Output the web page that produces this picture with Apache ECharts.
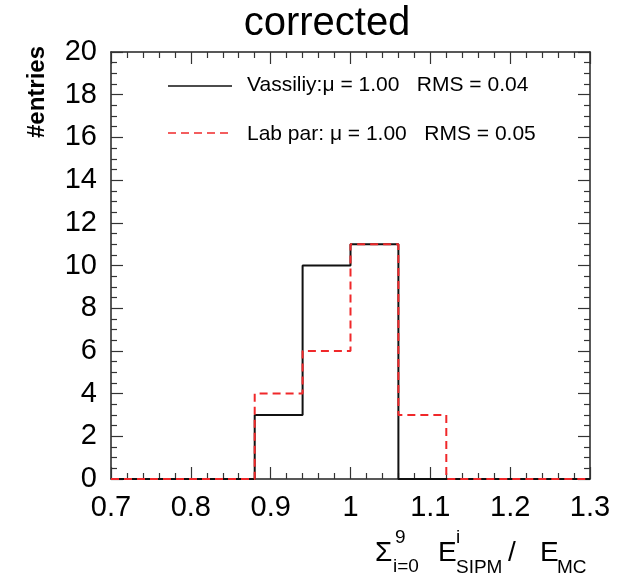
<!DOCTYPE html>
<html><head><meta charset="utf-8">
<script src="https://cdn.jsdelivr.net/npm/echarts@6/dist/echarts.min.js"></script>
<style>html,body{margin:0;padding:0;background:#fff}#c{width:628px;height:576px}</style>
</head><body><div id="c"></div>
<script>
const binEdges = [0.70, 0.76, 0.82, 0.88, 0.94, 1.00, 1.06, 1.12, 1.18, 1.24, 1.30];
const vassiliy = [0, 0, 0, 3, 10, 11, 0, 0, 0, 0];
const labPar   = [0, 0, 0, 4, 6, 11, 3, 0, 0, 0];
const chartTitle = 'corrected';
const yTitle = '#entries';
const legendTexts = ['Vassiliy:\u03bc = 1.00   RMS = 0.04', 'Lab par: \u03bc = 1.00   RMS = 0.05'];

function stepData(vals) {
  const d = vals.map((v, i) => [binEdges[i], v]);
  d.push([binEdges[binEdges.length - 1], vals[vals.length - 1]]);
  return d;
}
const FONT = 'Liberation Sans';
function mkAxis(extra, split) {
  return Object.assign({
    type: 'value',
    axisLine: { show: true, onZero: false, lineStyle: { color: '#222', width: 1.5 } },
    axisTick: { show: true, inside: true, length: 12, lineStyle: { color: '#333', width: 1.2 } },
    minorTick: { show: true, splitNumber: split, length: 6, lineStyle: { color: '#333', width: 1.2 } },
    splitLine: { show: false },
    minorSplitLine: { show: false }
  }, extra);
}
const chart = echarts.init(document.getElementById('c'), null, { renderer: 'canvas' });
function t(x, y, text, size, extra) {
  return { type: 'text', z: 50, x: x, y: y, style: Object.assign({ text: text, fontSize: size, fontFamily: FONT, fill: '#000', verticalAlign: 'middle', align: 'left' }, extra || {}) };
}
chart.setOption({
  animation: false,
  grid: { left: 111, right: 38, top: 52, bottom: 97 },
  xAxis: [
    mkAxis({ min: 0.7, max: 1.3, interval: 0.1, position: 'bottom',
      axisLabel: { show: true, fontSize: 29, fontFamily: FONT, color: '#000', margin: 14 } }, 5),
    mkAxis({ min: 0.7, max: 1.3, interval: 0.1, position: 'top', axisLabel: { show: false } }, 5)
  ],
  yAxis: [
    mkAxis({ min: 0, max: 20, interval: 2, position: 'left',
      axisLabel: { show: true, fontSize: 29, fontFamily: FONT, color: '#000', margin: 14 } }, 4),
    mkAxis({ min: 0, max: 20, interval: 2, position: 'right', axisLabel: { show: false } }, 4)
  ],
  series: [
    { type: 'line', name: 'Vassiliy', data: stepData(vassiliy), step: 'end',
      symbol: 'none', clip: false, z: 3, lineStyle: { color: '#111', width: 2 } },
    { type: 'line', name: 'Lab par', data: stepData(labPar), step: 'end',
      symbol: 'none', clip: false, z: 4, lineStyle: { color: '#f0282a', width: 2, type: [8, 5] } }
  ],
  graphic: [
    t(327, 24, chartTitle, 40, { align: 'center' }),
    { type: 'text', z: 50, x: 37, y: 92, rotation: Math.PI / 2,
      style: { text: yTitle, fontSize: 24, fontWeight: 'bold', fontFamily: FONT, fill: '#000', align: 'center', verticalAlign: 'middle' } },
    { type: 'line', z: 50, shape: { x1: 168, y1: 86, x2: 232, y2: 86 }, style: { stroke: '#111', lineWidth: 1.5 } },
    { type: 'line', z: 50, shape: { x1: 168, y1: 133, x2: 232, y2: 133 }, style: { stroke: '#f0282a', lineWidth: 1.5, lineDash: [8, 5] } },
    t(247, 85, legendTexts[0], 21),
    t(247, 134, legendTexts[1], 21),
    t(375, 553, '\u03a3', 28),
    t(395, 538, '9', 19),
    t(393, 567, 'i=0', 19),
    t(438, 553, 'E', 28),
    t(456, 538, 'i', 19),
    t(456, 568, 'SIPM', 19),
    t(508, 553, '/', 28),
    t(540, 553, 'E', 28),
    t(557, 568, 'MC', 19)
  ]
});
</script>
</body></html>
